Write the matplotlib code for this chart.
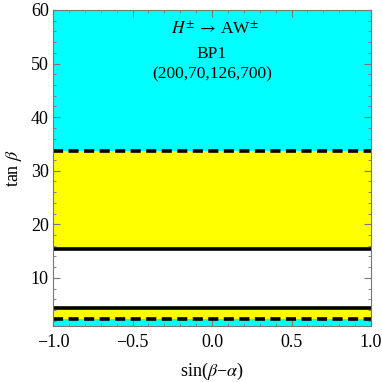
import matplotlib
matplotlib.use("Agg")
import matplotlib.pyplot as plt

plt.rcParams['font.family'] = ['Liberation Serif', 'DejaVu Serif']
plt.rcParams['mathtext.fontset'] = 'stix'

# data
x_range = [-1.0, 1.0]
y_range = [1.0, 60.0]
# region boundaries in tan(beta)
cyan_low_top = 2.4      # cyan below this
yellow_low_top = 4.35   # yellow between 2.4 and 4.35
white_top = 15.35       # white between 4.35 and 15.35
yellow_top = 33.7       # yellow between 15.35 and 33.7; cyan above
solid_lines = [4.35, 15.35]
dashed_lines = [2.4, 33.7]
x_ticks = [-1.0, -0.5, 0.0, 0.5, 1.0]
x_tick_labels = ["\u22121.0", "\u22120.5", "0.0", "0.5", "1.0"]
y_ticks = [10, 20, 30, 40, 50, 60]

cyan = '#00ffff'
yellow = '#ffff00'

fig = plt.figure(figsize=(3.82, 3.82), dpi=100)
ax = fig.add_axes([53/382, 56/382, 318/382, 316/382])

ax.axhspan(y_range[0], cyan_low_top, color=cyan, lw=0)
ax.axhspan(cyan_low_top, yellow_low_top, color=yellow, lw=0)
ax.axhspan(yellow_low_top, white_top, color='white', lw=0)
ax.axhspan(white_top, yellow_top, color=yellow, lw=0)
ax.axhspan(yellow_top, y_range[1], color=cyan, lw=0)

for y in solid_lines:
    ax.plot(x_range, [y, y], color='black', lw=2.6, solid_capstyle='butt')
for y in dashed_lines:
    ax.plot(x_range, [y, y], color='black', lw=2.6, linestyle=(0, (2.8, 1.5)))

ax.set_xlim(*x_range)
ax.set_ylim(*y_range)
ax.set_xticks(x_ticks)
ax.set_xticklabels(x_tick_labels)
ax.set_yticks(y_ticks)
ax.set_xticks([i / 10 for i in range(-10, 11)], minor=True)
ax.set_yticks(list(range(2, 61, 2)), minor=True)

ax.tick_params(which='both', direction='in', top=True, right=True, color='#777777')
ax.tick_params(which='major', length=5, width=0.8, labelsize=13)
ax.tick_params(which='minor', length=2.5, width=0.6)
ax.tick_params(axis='y', which='major', pad=3)
ax.tick_params(axis='x', which='major', pad=6)
for s in ax.spines.values():
    s.set_color('#777777')
    s.set_linewidth(0.8)

ax.set_xlabel('sin($\\beta$\u2212$\\alpha$)', fontsize=13, labelpad=7)
ax.set_ylabel(r'tan $\beta$', fontsize=13, labelpad=5)

ax.text(0.02, 56.4, r'$H^{\pm}\,\rightarrow\,$AW$^{\pm}$', ha='center', va='center', fontsize=12.5)
ax.text(0.0, 51.7, 'BP1', ha='center', va='center', fontsize=12.5)
ax.text(0.0, 48.0, '(200,70,126,700)', ha='center', va='center', fontsize=12.5)

fig.savefig('out.png', dpi=100)
